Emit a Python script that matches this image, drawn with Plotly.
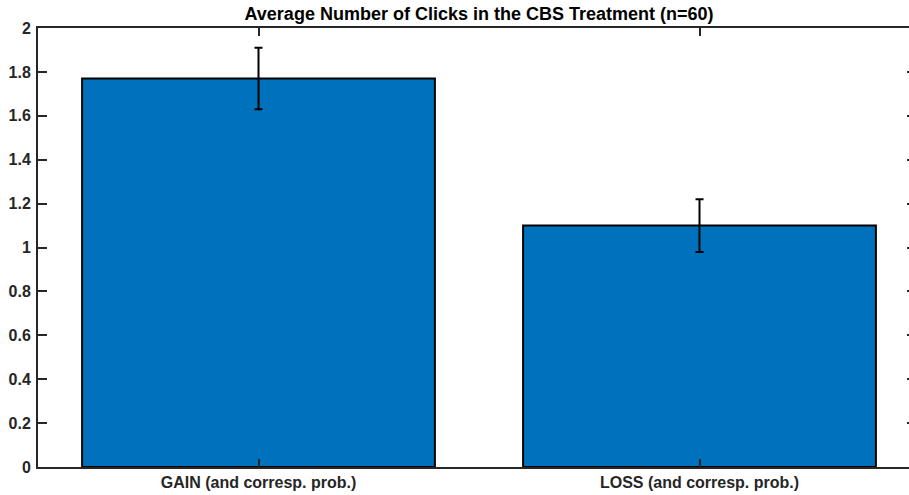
import plotly.graph_objects as go

categories = ["GAIN (and corresp. prob.)", "LOSS (and corresp. prob.)"]
means = [1.77, 1.10]
errors = [0.14, 0.12]
y_ticks = [0, 0.2, 0.4, 0.6, 0.8, 1, 1.2, 1.4, 1.6, 1.8, 2]
y_tick_text = ["0", "0.2", "0.4", "0.6", "0.8", "1", "1.2", "1.4", "1.6", "1.8", "2"]
title = "Average Number of Clicks in the CBS Treatment (n=60)"

xpos = [1, 2]
axis_col = "#262626"
font_fam = "Liberation Sans, Arial, Helvetica, sans-serif"

fig = go.Figure()
fig.add_trace(go.Bar(
    x=xpos, y=means, width=0.8,
    marker=dict(color="#0072BD", line=dict(color="black", width=2)),
    error_y=dict(type="data", array=errors, color="black", thickness=2, width=4),
    showlegend=False,
))
# invisible trace to host the right-side ticks
fig.add_trace(go.Scatter(x=[1], y=[0], yaxis="y2", mode="markers",
                         marker=dict(opacity=0), showlegend=False, hoverinfo="skip"))

x_max = 0.5 + (909 - 38) / 441
fig.update_layout(
    width=909, height=495,
    margin=dict(l=38, r=0, t=28, b=28),
    paper_bgcolor="white", plot_bgcolor="white",
    title=dict(text=title, xref="paper", x=(2.5 - 0.5) / 2 / (x_max - 0.5), xanchor="center",
               y=1 - 14/495, yanchor="middle",
               font=dict(family=font_fam, size=18, color="black", weight="bold")),
    bargap=0.2,
    xaxis=dict(
        range=[0.5, x_max], tickvals=xpos, ticktext=categories,
        ticks="inside", ticklen=8, tickwidth=2, tickcolor=axis_col,
        showline=True, linecolor=axis_col, linewidth=2, mirror="ticks",
        showgrid=False, zeroline=False, ticklabelstandoff=0,
        tickfont=dict(family=font_fam, size=16, color="#262626", weight="bold"),
    ),
    yaxis=dict(
        range=[0, 2], tickvals=y_ticks, ticktext=y_tick_text,
        ticks="inside", ticklen=9, tickwidth=2, tickcolor=axis_col,
        showline=True, linecolor=axis_col, linewidth=2,
        showgrid=False, zeroline=False, ticklabelstandoff=2,
        tickfont=dict(family=font_fam, size=16, color="#262626", weight="bold"),
    ),
    yaxis2=dict(
        range=[0, 2], tickvals=y_ticks, overlaying="y", side="right",
        ticks="inside", ticklen=2, tickwidth=2, tickcolor=axis_col,
        showticklabels=False, showline=False, showgrid=False, zeroline=False,
    ),
)

fig.write_html("out.html", config={"displayModeBar": False},
               post_script="document.body.style.margin='0';document.body.style.overflow='hidden';")
